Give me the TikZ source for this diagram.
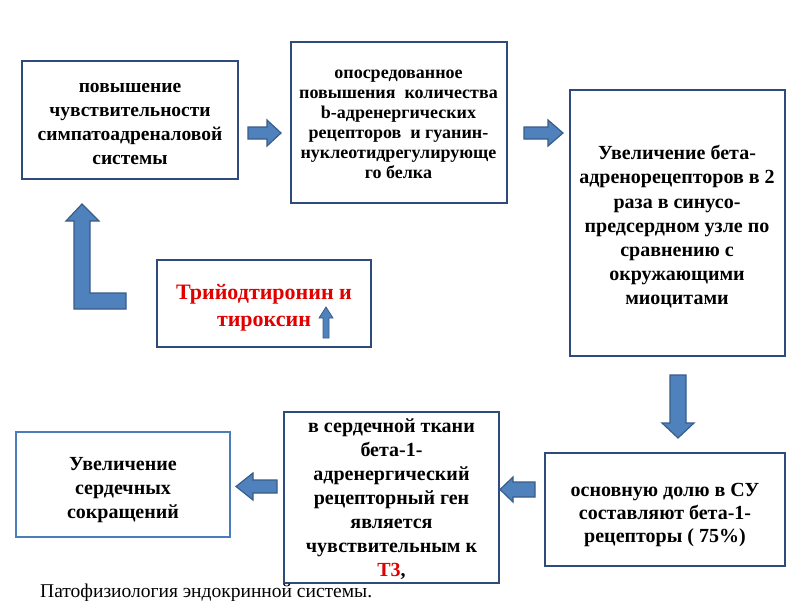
\documentclass[tikz,border=0pt]{standalone}
\usepackage{fontspec}
\setmainfont{Liberation Serif}
\definecolor{arrowfill}{HTML}{4F81BD}
\definecolor{arrowline}{HTML}{385D8A}
\definecolor{boxline}{HTML}{2F4B7C}
\definecolor{boxlight}{HTML}{4A7EBB}
\definecolor{redtext}{HTML}{E00000}
\newcommand\tpush[1]{\rule{0pt}{#1}}
\begin{document}
\begin{tikzpicture}[x=1pt,y=-1pt,
  box/.style={draw=boxline, line width=2pt, fill=white, align=center, inner sep=1pt,
    font=\bfseries\fontsize{19.5}{24}\selectfont},
  barrow/.style={fill=arrowfill, draw=arrowline, line width=1.2pt, line join=miter}]
\useasboundingbox (0,0) rectangle (800,600);
\fill[white] (0,0) rectangle (800,600);

\node[box, minimum width=216pt, minimum height=118pt] (b1) at (130,120)
  {\tpush{17pt}повышение\\чувствительности\\симпатоадреналовой\\системы};
\node[box, minimum width=216pt, minimum height=161pt, font=\bfseries\fontsize{18}{20}\selectfont] (b2) at (398.5,122.5)
  {\tpush{12.5pt}опосредованное\\повышения\ \ количества\\b-адренергических\\рецепторов\ \ и гуанин-\\нуклеотидрегулирующе\\го белка};
\node[box, minimum width=215pt, minimum height=266pt, font=\bfseries\fontsize{20}{24.2}\selectfont] (b3) at (677,223)
  {\tpush{22pt}Увеличение бета-\\адренорецепторов в 2\\раза в синусо-\\предсердном узле по\\сравнению с\\окружающими\\миоцитами};
\node[box, minimum width=214pt, minimum height=87pt, text=redtext, font=\bfseries\fontsize{22}{27}\selectfont] (b4) at (264,303.5)
  {\tpush{23pt}Трийодтиронин и\\тироксин};
\node[box, draw=boxlight, minimum width=214pt, minimum height=105pt, font=\bfseries\fontsize{20}{24}\selectfont] (b5) at (123,484)
  {\tpush{25pt}Увеличение\\сердечных\\сокращений};
\node[box, minimum width=215pt, minimum height=171pt, font=\bfseries\fontsize{20}{24}\selectfont] (b6) at (391.5,497.5)
  {\tpush{18pt}в сердечной ткани\\бета-1-\\адренергический\\рецепторный ген\\является\\чувствительным к\\{\color{redtext}Т3},};
\node[box, minimum width=240pt, minimum height=113pt, font=\bfseries\fontsize{20}{23}\selectfont] (b7) at (665,509)
  {\tpush{25pt}основную долю в СУ\\составляют бета-1-\\рецепторы ( 75\%)};

% block arrows
\draw[barrow] (248,127)--(267,127)--(267,120)--(281,133)--(267,146)--(267,139)--(248,139)--cycle;
\draw[barrow] (524,127)--(548,127)--(548,120)--(563,133)--(548,146)--(548,139)--(524,139)--cycle;
\draw[barrow] (670,375)--(686,375)--(686,423)--(694,423)--(678,438)--(662,423)--(670,423)--cycle;
\draw[barrow] (535,482)--(513,482)--(513,477)--(500,489.5)--(513,502)--(513,497)--(535,497)--cycle;
\draw[barrow] (277,480)--(253,480)--(253,473)--(236,486.5)--(253,500)--(253,493)--(277,493)--cycle;
\draw[barrow] (74,309)--(126,309)--(126,293)--(90,293)--(90,221)--(99,221)--(82,204)--(66,221)--(74,221)--cycle;
\draw[barrow, line width=0.8pt] (323,338)--(329,338)--(329,318)--(333,318)--(326,307)--(319,318)--(323,318)--cycle;

\node[anchor=base west, inner sep=0pt, font=\fontsize{19.5}{20}\selectfont] (foot) at (40,597)
  {Патофизиология эндокринной системы.};
\end{tikzpicture}
\end{document}
